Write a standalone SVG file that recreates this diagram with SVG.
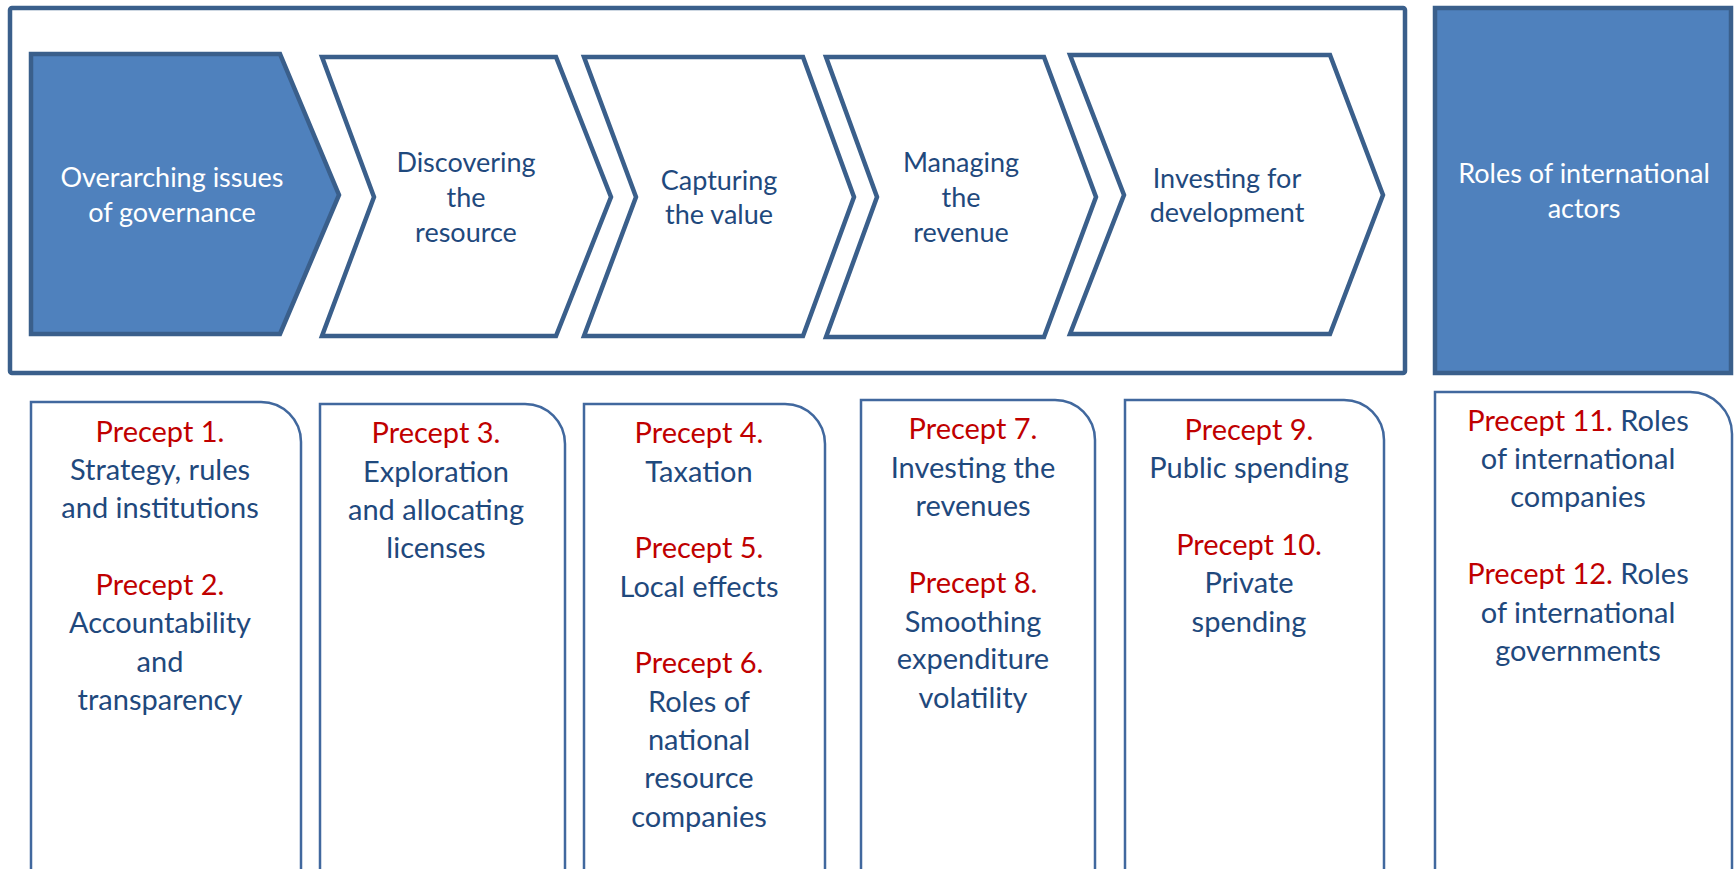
<svg xmlns="http://www.w3.org/2000/svg" width="1735" height="869" viewBox="0 0 1735 869">
<style>
.frame{fill:#fff;stroke:#3A5F8B;stroke-width:4.5}
.chev{fill:#fff;stroke:#3A5F8B;stroke-width:4.5;stroke-linejoin:miter}
.chevb{fill:#4F81BD;stroke:#3A5F8B;stroke-width:4.5}
.card{fill:#fff;stroke:#41689E;stroke-width:2.5}
text{font-family:Lato,"Liberation Sans",sans-serif;text-anchor:middle}
.h{font-size:27px;fill:#1F497D}
.hw{font-size:27px;fill:#fff}
.t{font-size:29px;fill:#1F497D}
.r{fill:#C00000}
</style>
<rect width="1735" height="869" fill="#fff"/>
<g id="frame"><rect class="frame" x="10" y="8" width="1395" height="365" rx="2"/></g>
<g id="node-governance">
<polygon class="chevb" points="31,54 280,54 339,195 280,334 31,334"/>
<text class="hw" x="172" y="187">Overarching issues</text>
<text class="hw" x="172" y="222">of governance</text>
</g>
<g id="node-discovering">
<polygon class="chev" points="322,57 556,57 611,197 556,336 322,336 374,197"/>
<text class="h" x="466" y="172">Discovering</text>
<text class="h" x="466" y="207">the</text>
<text class="h" x="466" y="242">resource</text>
</g>
<g id="node-capturing">
<polygon class="chev" points="584,57 803,57 854,197 803,336 584,336 636,197"/>
<text class="h" x="719" y="190">Capturing</text>
<text class="h" x="719" y="224">the value</text>
</g>
<g id="node-managing">
<polygon class="chev" points="826,57 1044,57 1096,197 1044,337 826,337 877,197"/>
<text class="h" x="961" y="172">Managing</text>
<text class="h" x="961" y="207">the</text>
<text class="h" x="961" y="242">revenue</text>
</g>
<g id="node-investing">
<polygon class="chev" points="1070,55 1330,55 1383,195 1330,334 1070,334 1124,195"/>
<text class="h" x="1227" y="188">Investing for</text>
<text class="h" x="1227" y="222">development</text>
</g>
<g id="node-international">
<rect class="chevb" x="1435" y="8" width="296" height="365"/>
<text class="hw" x="1584" y="183">Roles of international</text>
<text class="hw" x="1584" y="218">actors</text>
</g>
<g id="card-1">
<path class="card" d="M31,880 V402 H261 A40,40 0 0 1 301,442 V880"/>
<text class="t r" x="160" y="442">Precept 1.</text>
<text class="t" x="160" y="480">Strategy, rules</text>
<text class="t" x="160" y="518">and institutions</text>
<text class="t r" x="160" y="595">Precept 2.</text>
<text class="t" x="160" y="633">Accountability</text>
<text class="t" x="160" y="672">and</text>
<text class="t" x="160" y="710">transparency</text>
</g>
<g id="card-2">
<path class="card" d="M320,880 V404 H525 A40,40 0 0 1 565,444 V880"/>
<text class="t r" x="436" y="443">Precept 3.</text>
<text class="t" x="436" y="482">Exploration</text>
<text class="t" x="436" y="520">and allocating</text>
<text class="t" x="436" y="558">licenses</text>
</g>
<g id="card-3">
<path class="card" d="M584,880 V404 H785 A40,40 0 0 1 825,444 V880"/>
<text class="t r" x="699" y="443">Precept 4.</text>
<text class="t" x="699" y="482">Taxation</text>
<text class="t r" x="699" y="558">Precept 5.</text>
<text class="t" x="699" y="597">Local effects</text>
<text class="t r" x="699" y="673">Precept 6.</text>
<text class="t" x="699" y="712">Roles of</text>
<text class="t" x="699" y="750">national</text>
<text class="t" x="699" y="788">resource</text>
<text class="t" x="699" y="827">companies</text>
</g>
<g id="card-4">
<path class="card" d="M861,880 V400 H1055 A40,40 0 0 1 1095,440 V880"/>
<text class="t r" x="973" y="439">Precept 7.</text>
<text class="t" x="973" y="478">Investing the</text>
<text class="t" x="973" y="516">revenues</text>
<text class="t r" x="973" y="593">Precept 8.</text>
<text class="t" x="973" y="632">Smoothing</text>
<text class="t" x="973" y="669">expenditure</text>
<text class="t" x="973" y="708">volatility</text>
</g>
<g id="card-5">
<path class="card" d="M1125,880 V400 H1344 A40,40 0 0 1 1384,440 V880"/>
<text class="t r" x="1249" y="440">Precept 9.</text>
<text class="t" x="1249" y="478">Public spending</text>
<text class="t r" x="1249" y="555">Precept 10.</text>
<text class="t" x="1249" y="593">Private</text>
<text class="t" x="1249" y="632">spending</text>
</g>
<g id="card-6">
<path class="card" d="M1435,880 V392 H1690 A42,42 0 0 1 1732,434 V880"/>
<text class="t" x="1578" y="431"><tspan class="r">Precept 11.</tspan> Roles</text>
<text class="t" x="1578" y="469">of international</text>
<text class="t" x="1578" y="507">companies</text>
<text class="t" x="1578" y="584"><tspan class="r">Precept 12.</tspan> Roles</text>
<text class="t" x="1578" y="623">of international</text>
<text class="t" x="1578" y="661">governments</text>
</g>
</svg>
